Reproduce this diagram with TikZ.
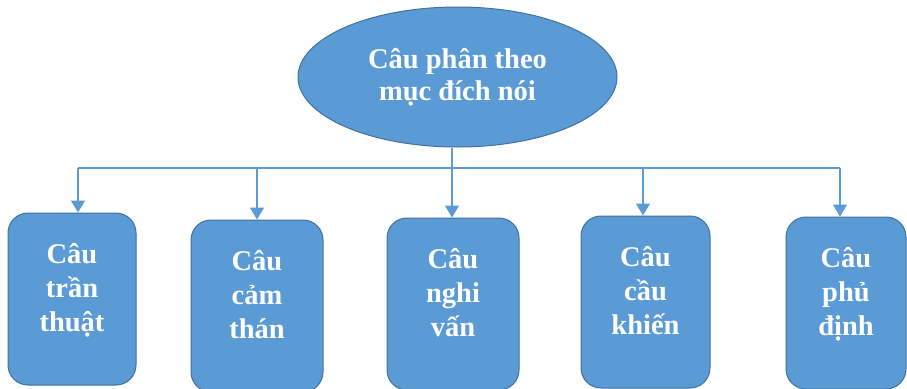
\documentclass[tikz,border=0pt]{standalone}
\usepackage{fontspec}
\setmainfont{Liberation Serif}
\usetikzlibrary{arrows.meta,shapes.geometric}
\definecolor{fillblue}{HTML}{5B9BD5}
\definecolor{edgeblue}{HTML}{41719C}
\definecolor{lineblue}{HTML}{5B9BD5}
\newcommand{\boxlabel}[3]{\parbox[c][#1][t]{#2}{\centering\vspace*{27pt}\strut #3}}
\begin{document}
\begin{tikzpicture}[x=1pt,y=-1pt,
  box/.style={draw=edgeblue, line width=1pt, fill=fillblue, rounded corners=20pt, inner sep=0pt,
    text=white, font=\fontsize{28.5}{34}\selectfont\bfseries},
  topell/.style={ellipse, draw=edgeblue, line width=1pt, fill=fillblue, inner sep=0pt,
    minimum width=319pt, minimum height=140pt, text=white, align=center,
    font=\fontsize{28.5}{32}\selectfont\bfseries},
  link/.style={draw=lineblue, line width=1.4pt},
  arr/.style={link, -{Triangle[width=14pt,length=12pt]}}]
\clip (0,0) rectangle (907,388);
\fill[white] (0,0) rectangle (907,388);

\node[topell] (e) at (457.5,77) {Câu phân theo\\mục đích nói};

\node[box] (b1) at (72,299)    {\boxlabel{172pt}{128pt}{Câu\\trần\\thuật}};
\node[box] (b2) at (257,306)   {\boxlabel{172pt}{132pt}{Câu\\cảm\\thán}};
\node[box] (b3) at (453,304)   {\boxlabel{172pt}{132pt}{Câu\\nghi\\vấn}};
\node[box] (b4) at (645.5,302) {\boxlabel{172pt}{129pt}{Câu\\cầu\\khiến}};
\node[box] (b5) at (846,303)   {\boxlabel{172pt}{120pt}{Câu\\phủ\\định}};

\coordinate (hub) at (452,168);
\draw[link] (e.south -| hub) -- (hub);
\draw[link] ([xshift=6pt]b1.north |- hub) -- ([xshift=-6pt]b5.north |- hub);
\draw[arr] ([xshift=6pt]b1.north |- hub) -- ([xshift=6pt]b1.north);
\draw[arr] (b2.north |- hub) -- (b2.north);
\draw[arr] (hub) -- (b3.north -| hub);
\draw[arr] ([xshift=-2.5pt]b4.north |- hub) -- ([xshift=-2.5pt]b4.north);
\draw[arr] ([xshift=-6pt]b5.north |- hub) -- ([xshift=-6pt]b5.north);
\end{tikzpicture}
\end{document}
